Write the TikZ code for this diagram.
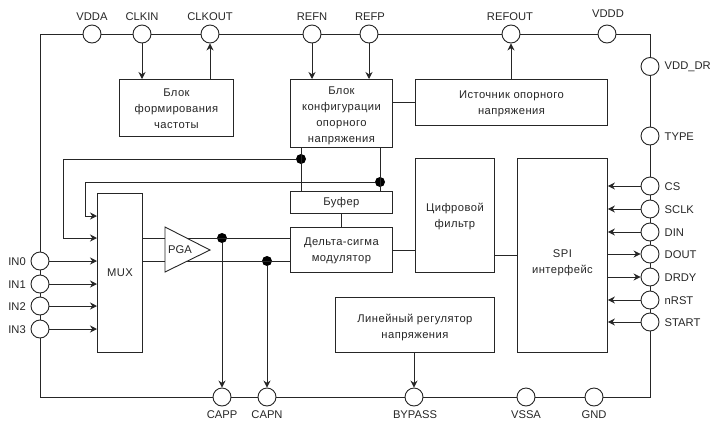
\documentclass[tikz,border=0pt]{standalone}
\usepackage{fontspec}
\setmainfont{Liberation Sans}
\newfontfamily\boxfont[LetterSpace=4]{Liberation Sans}
\usetikzlibrary{arrows.meta}
\tikzset{
  line/.style={line width=0.9pt,draw=black!85},
  arr/.style={line,-{Stealth[length=7pt,width=7pt]}},
  pin/.style={circle,draw=black!85,line width=0.9pt,fill=white,minimum size=18pt,inner sep=0pt},
  blockbox/.style={draw=black!85,line width=0.9pt,fill=white,anchor=north west,inner sep=0pt,align=center,
    font=\boxfont\fontsize{11.2}{16}\selectfont,text=black!85},
  lab/.style={inner sep=0pt,font=\fontsize{11.2}{12}\selectfont,text=black!85},
  dot/.style={circle,fill=black,inner sep=0pt,minimum size=10pt},
}
\newcommand{\blockat}[6]{\node[blockbox,minimum width=#4pt-#2pt,minimum height=#5pt-#3pt] (#1) at (#2,#3) {#6};}
\newcommand{\lift}[1]{\rule{0pt}{#1pt}}
\begin{document}
\begin{tikzpicture}[x=1pt,y=-1pt]
\useasboundingbox (0,0) rectangle (710,421);
% pins
\coordinate (tl) at (40,34); \coordinate (tr) at (650,34);
\coordinate (bl) at (40,397); \coordinate (br) at (650,397);
\foreach \n/\x in {vdda/92,clkin/142,clkout/210,refn/312,refp/369,refout/511,vddd/607}
  \node[pin] (\n) at (\x,34) {};
\foreach \n/\y in {vdddr/66.5,type/136,cs/186,sclk/209,din/232,dout/254,drdy/277,nrst/300,start/322}
  \node[pin] (\n) at (650,\y) {};
\foreach \n/\y in {inzero/261,inone/284,intwo/306,inthree/329}
  \node[pin] (\n) at (40,\y) {};
\foreach \n/\x in {capp/222,capn/267,bypass/414,vssa/526,gnd/594}
  \node[pin] (\n) at (\x,397) {};
% frame
\draw[line] (inzero) -- (tl) -- (vdda) -- (clkin) -- (clkout) -- (refn) -- (refp) -- (refout) -- (vddd) -- (tr) -- (vdddr) -- (type) -- (cs) -- (sclk) -- (din) -- (dout) -- (drdy) -- (nrst) -- (start) -- (br) -- (gnd) -- (vssa) -- (bypass) -- (capn) -- (capp) -- (bl) -- (inthree) -- (intwo) -- (inone) -- (inzero);
% blocks
\blockat{freq}{119}{79}{233}{136}{\lift{10}Блок\\формирования\\частоты}
\blockat{conf}{290}{79}{392}{147}{\boxfont\fontsize{11.2}{14.7}\selectfont \lift{12}Блок\\конфигурации\\опорного\\напряжения}
\blockat{src}{415}{79}{607}{125}{\lift{11}Источник опорного\\напряжения}
\blockat{filt}{415}{158}{494}{272}{\lift{10}Цифровой\\фильтр}
\blockat{spi}{517}{158}{607}{352}{\lift{22}SPI\\интерфейс}
\blockat{buf}{290}{191}{392}{213}{Буфер}
\blockat{ds}{290}{227}{392}{272}{\lift{10}Дельта-сигма\\модулятор}
\blockat{mux}{97}{193}{142}{352}{MUX}
\blockat{reg}{335}{297}{494}{352}{\lift{13}Линейный регулятор\\напряжения}
% coordinates on the block edges
\coordinate (muxa) at (97,216); \coordinate (muxb) at (97,238);
\coordinate (fba) at (63,159); \coordinate (fbb) at (85,182);
\coordinate (fbc) at (63,238); \coordinate (fbd) at (85,216);
\node[dot] (da) at (301,159) {};
\node[dot] (db) at (380,182) {};
\node[dot] (dc) at (222,238) {};
\node[dot] (dd) at (267,261) {};
% connectors
\draw[arr] (clkin) -- (clkin |- freq.north);
\draw[arr] (clkout |- freq.north) -- (clkout);
\draw[arr] (refn) -- (refn |- conf.north);
\draw[arr] (refp) -- (refp |- conf.north);
\draw[arr] (refout |- src.north) -- (refout);
\draw[line] (conf.east |- src.west) -- (src.west);
\draw[line] (da |- conf.south) -- (da |- buf.north);
\draw[line] (db |- conf.south) -- (db |- buf.north);
\draw[arr] (da) -- (fba) -- (fbc) -- (muxb);
\draw[arr] (db) -- (fbb) -- (fbd) -- (muxa);
\draw[line] (buf.south) -- (ds.north);
\draw[line] (mux.east |- dc) -- (ds.west |- dc);
\draw[line] (mux.east |- dd) -- (ds.west |- dd);
\draw[line] (ds.east) -- (filt.west |- ds.east);
\draw[line] (filt.east |- spi.west) -- (spi.west);
\draw[arr] (dc) -- (capp);
\draw[arr] (dd) -- (capn);
\draw[arr] (reg.south -| bypass) -- (bypass);
\foreach \n in {inzero,inone,intwo,inthree}
  \draw[arr] (\n) -- (\n -| mux.west);
\foreach \n in {cs,sclk,din,nrst,start}
  \draw[arr] (\n) -- (\n -| spi.east);
\foreach \n in {dout,drdy}
  \draw[arr] (\n -| spi.east) -- (\n);
% PGA
\draw[line,fill=white] (165,227) -- (210,250) -- (165,272) -- cycle;
\node[lab] (pga) at (180,250) {PGA};
% labels
\foreach \t/\x/\y in {VDDA/92/17,CLKIN/142/17,CLKOUT/210/17,REFN/312/17,REFP/370/17,REFOUT/510/17,VDDD/608/14,
  CAPP/222/415,CAPN/267/415,BYPASS/415/415,VSSA/526/415,GND/594/415}
  \node[lab] (l\t) at (\x,\y) {\t};
\foreach \t/\y in {VDD\_DR/66.5,TYPE/137,CS/187,SCLK/210,DIN/233,DOUT/255,DRDY/278,nRST/301,START/323}
  \node[lab,anchor=west] at (664.5,\y) {\t};
\foreach \t/\y in {IN0/262,IN1/285,IN2/307,IN3/330}
  \node[lab,anchor=east] at (26,\y) {\t};
\end{tikzpicture}
\end{document}
